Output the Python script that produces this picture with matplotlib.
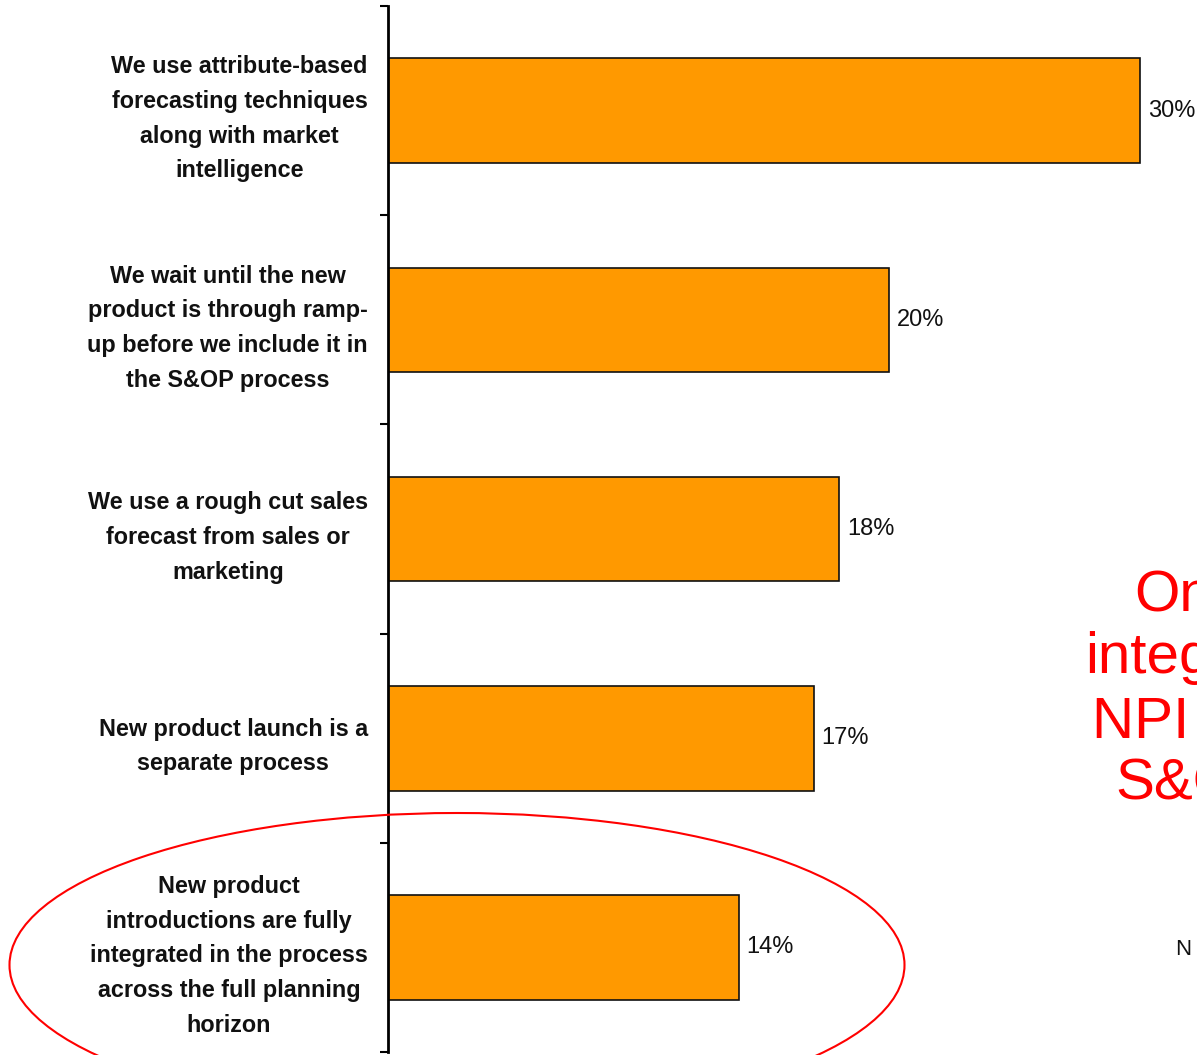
import matplotlib
matplotlib.use('Agg')
import matplotlib.pyplot as plt
from matplotlib.patches import Ellipse

# survey answers, top to bottom
categories = [
    "We use attribute-based\nforecasting techniques\nalong with market\nintelligence",
    "We wait until the new\nproduct is through ramp-\nup before we include it in\nthe S&OP process",
    "We use a rough cut sales\nforecast from sales or\nmarketing",
    "New product launch is a\nseparate process",
    "New product\nintroductions are fully\nintegrated in the process\nacross the full planning\nhorizon",
]
shares = [30, 20, 18, 17, 14]
callout_lines = ["Only", "integrate", "NPI into", "S&OP"]

BAR_COLOR = "#FF9900"
SANS = ["Liberation Sans", "DejaVu Sans"]
W, H, DPI = 1197, 1055, 100

fig = plt.figure(figsize=(W / DPI, H / DPI), dpi=DPI)
fig.patch.set_facecolor("white")

# axes box in pixel terms: spine at x=388, from y=6 to y=1052 (top-down)
left, right = 388 / W, 1.0
bottom, top = (H - 1052) / H, (H - 6) / H
ax = fig.add_axes([left, bottom, right - left, top - bottom])

y = list(range(len(categories)))
ax.barh(y, shares, height=0.5, color=BAR_COLOR, edgecolor="#111111", linewidth=1.2)
ax.set_ylim(len(categories) - 0.5, -0.5)
ax.set_xlim(0, (W - 388) / 25.07)

for yi, v in zip(y, shares):
    ax.text(v + 0.3, yi, f"{v}%", va="center", ha="left", fontsize=17,
            family=SANS, color="#111111")

# boundary ticks on the spine, labels at the bar centres
ax.set_yticks([i - 0.5 for i in range(len(categories) + 1)])
ax.set_yticklabels([])
ax.set_yticks(y, minor=True)
ax.set_yticklabels(categories, minor=True)
ax.tick_params(axis="y", which="major", direction="out", length=6, width=1.5)
ax.tick_params(axis="y", which="minor", length=0, pad=14.5)
for lbl in ax.get_yticklabels(minor=True):
    lbl.set_multialignment("center")
    lbl.set_fontfamily(SANS)
    lbl.set_fontweight("bold")
    lbl.set_fontsize(16.8)
    lbl.set_linespacing(1.65)
    lbl.set_color("#111111")

ax.set_xticks([])
for s in ["top", "right", "bottom"]:
    ax.spines[s].set_visible(False)
ax.spines["left"].set_linewidth(2)
ax.patch.set_alpha(0)

# red ring round the last answer
ring = Ellipse((457 / W, 1 - 965 / H), 895 / W, 304 / H, transform=fig.transFigure,
               fill=False, edgecolor="#FF0000", linewidth=1.5, clip_on=False)
fig.patches.append(ring)

# red callout on the right edge
callout_x = [1134, 1085, 1092, 1115]
callout_y = [611, 673, 737, 800]
for txt, cx, cy in zip(callout_lines, callout_x, callout_y):
    fig.text(cx / W, 1 - cy / H, txt, color="#FF0000", fontsize=42,
             family=SANS, ha="left", va="baseline")

fig.text(1175 / W, 1 - 955 / H, "N", color="#111111", fontsize=16,
         family=SANS, ha="left", va="baseline")

fig.savefig("out.png", dpi=DPI, facecolor="white")
